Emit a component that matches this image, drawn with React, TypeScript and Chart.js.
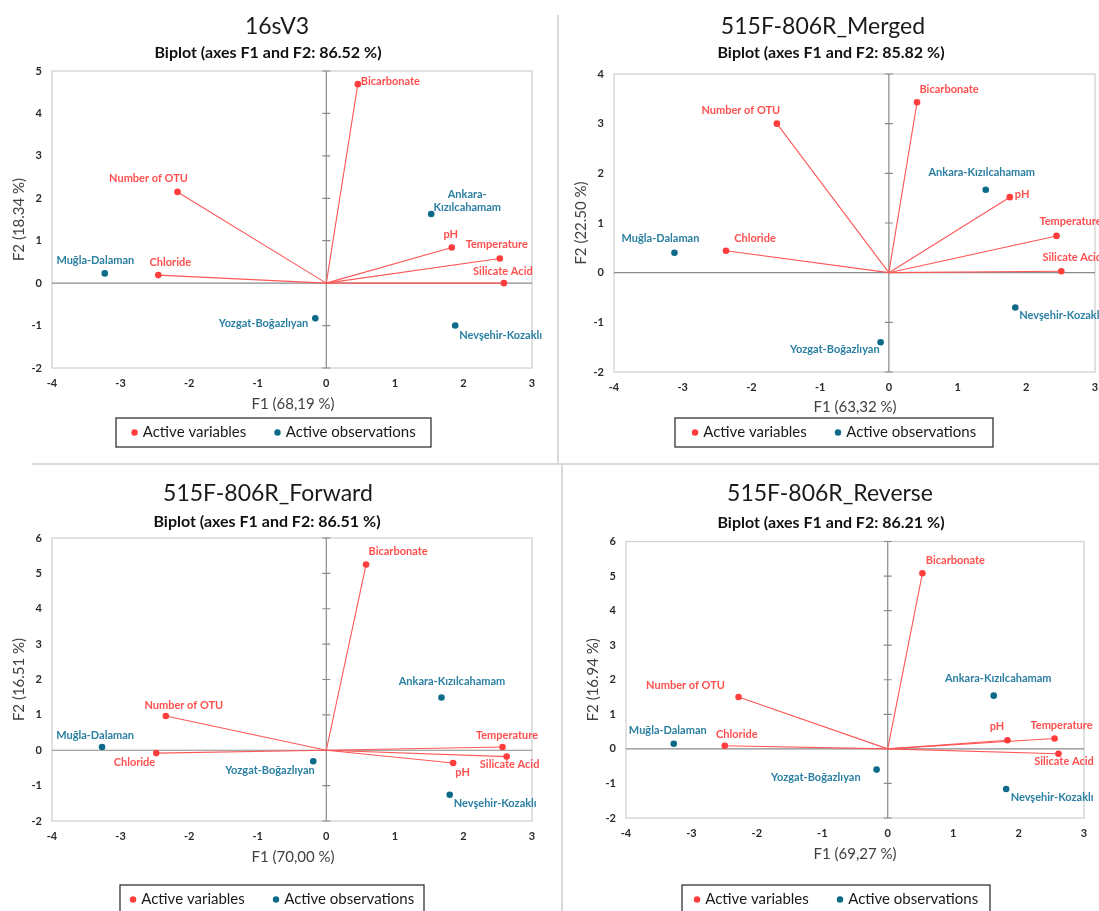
import React, { useEffect, useRef } from "react";
import { Chart, registerables } from "chart.js";

Chart.register(...registerables);

// ---------- data ----------
const variableNames = ["Bicarbonate", "Number of OTU", "Chloride", "pH", "Temperature", "Silicate Acid"];
const observationNames = ["Muğla-Dalaman", "Ankara-Kızılcahamam", "Yozgat-Boğazlıyan", "Nevşehir-Kozaklı"];
const xTicks = [-4, -3, -2, -1, 0, 1, 2, 3];

// 16sV3
const v3VarF1 = [0.46, -2.17, -2.45, 1.83, 2.53, 2.59];
const v3VarF2 = [4.69, 2.15, 0.19, 0.84, 0.58, 0.0];
const v3ObsF1 = [-3.23, 1.53, -0.16, 1.88];
const v3ObsF2 = [0.23, 1.63, -0.83, -1.0];
const v3YTicks = [-2, -1, 0, 1, 2, 3, 4, 5];

// 515F-806R_Merged
const mergedVarF1 = [0.41, -1.63, -2.37, 1.76, 2.44, 2.51];
const mergedVarF2 = [3.43, 3.0, 0.44, 1.52, 0.74, 0.03];
const mergedObsF1 = [-3.12, 1.41, -0.12, 1.84];
const mergedObsF2 = [0.4, 1.67, -1.4, -0.7];
const mergedYTicks = [-2, -1, 0, 1, 2, 3, 4];

// 515F-806R_Forward
const forwardVarF1 = [0.58, -2.34, -2.48, 1.85, 2.57, 2.63];
const forwardVarF2 = [5.25, 0.97, -0.08, -0.36, 0.09, -0.18];
const forwardObsF1 = [-3.27, 1.68, -0.19, 1.8];
const forwardObsF2 = [0.09, 1.49, -0.31, -1.26];
const forwardYTicks = [-2, -1, 0, 1, 2, 3, 4, 5, 6];

// 515F-806R_Reverse
const reverseVarF1 = [0.53, -2.28, -2.49, 1.83, 2.55, 2.61];
const reverseVarF2 = [5.08, 1.5, 0.09, 0.25, 0.3, -0.14];
const reverseObsF1 = [-3.27, 1.62, -0.17, 1.81];
const reverseObsF2 = [0.15, 1.54, -0.6, -1.16];
const reverseYTicks = [-2, -1, 0, 1, 2, 3, 4, 5, 6];

// ---------- styles ----------
const FONT = "Lato, 'Open Sans', sans-serif";
const RED = "#ff3d3d";
const RED_LINE = "#ff5757";
const RED_TEXT = "#ff5050";
const TEAL = "#0d6a89";
const TEAL_TEXT = "#2a7fa2";
const Y_W = 30;
const X_H = 24;

type LabelStyle = [number, number, CanvasTextAlign, boolean?];

type Panel = {
  key: string;
  title: string;
  subtitle: string;
  xTitle: string;
  yTitle: string;
  varF1: number[];
  varF2: number[];
  obsF1: number[];
  obsF2: number[];
  yTicks: number[];
  canvas: [number, number, number, number]; // left, top, width, height (page)
  plot: [number, number, number, number]; // left, top, right, bottom (page)
  titlePos: [number, number];
  subPos: [number, number];
  xTitlePos: [number, number];
  yTitleX: number;
  legend: [number, number, number, number];
  varLabels: LabelStyle[];
  obsLabels: LabelStyle[];
};

const PANELS: Panel[] = [
  {
    key: "v3",
    title: "16sV3",
    subtitle: "Biplot (axes F1 and F2: 86.52 %)",
    xTitle: "F1 (68,19 %)",
    yTitle: "F2 (18.34 %)",
    varF1: v3VarF1,
    varF2: v3VarF2,
    obsF1: v3ObsF1,
    obsF2: v3ObsF2,
    yTicks: v3YTicks,
    canvas: [0, 0, 559, 462],
    plot: [52, 71, 532, 368],
    titlePos: [277, 27],
    subPos: [268, 53],
    xTitlePos: [293, 404],
    yTitleX: 19,
    legend: [116, 418, 431, 447],
    varLabels: [
      [3, -3, "left"],
      [-29, -13, "center"],
      [12, -13, "center"],
      [-1, -13, "center"],
      [-3, -14, "center"],
      [-1, -12, "center"],
    ],
    obsLabels: [
      [-9.5, -13, "center"],
      [36, -7, "center", true],
      [-7, 5, "right"],
      [4, 9.5, "left"],
    ],
  },
  {
    key: "merged",
    title: "515F-806R_Merged",
    subtitle: "Biplot (axes F1 and F2: 85.82 %)",
    xTitle: "F1 (63,32 %)",
    yTitle: "F2 (22.50 %)",
    varF1: mergedVarF1,
    varF2: mergedVarF2,
    obsF1: mergedObsF1,
    obsF2: mergedObsF2,
    yTicks: mergedYTicks,
    canvas: [560, 0, 539, 462],
    plot: [614, 74, 1096, 372],
    titlePos: [823, 27],
    subPos: [831, 53],
    xTitlePos: [855, 407],
    yTitleX: 581.5,
    legend: [675, 418, 993, 447],
    varLabels: [
      [32, -13, "center"],
      [-36, -13, "center"],
      [29, -12, "center"],
      [5, -3, "left"],
      [14, -14, "center"],
      [11, -14, "center"],
    ],
    obsLabels: [
      [-14, -14, "center"],
      [-4, -17, "center"],
      [-1, 7, "right"],
      [4, 8, "left"],
    ],
  },
  {
    key: "forward",
    title: "515F-806R_Forward",
    subtitle: "Biplot (axes F1 and F2: 86.51 %)",
    xTitle: "F1 (70,00 %)",
    yTitle: "F2 (16.51 %)",
    varF1: forwardVarF1,
    varF2: forwardVarF2,
    obsF1: forwardObsF1,
    obsF2: forwardObsF2,
    yTicks: forwardYTicks,
    canvas: [0, 466, 560, 445],
    plot: [52, 538, 532, 821],
    titlePos: [268, 494],
    subPos: [267, 522],
    xTitlePos: [293, 857],
    yTitleX: 19,
    legend: [120, 885, 424, 916],
    varLabels: [
      [32, -13, "center"],
      [18, -10, "center"],
      [-1, 9, "right"],
      [9.5, 9, "center"],
      [4.5, -12, "center"],
      [3, 8, "center"],
    ],
    obsLabels: [
      [-7, -12, "center"],
      [10.5, -16, "center"],
      [1.5, 9, "right"],
      [4, 9, "left"],
    ],
  },
  {
    key: "reverse",
    title: "515F-806R_Reverse",
    subtitle: "Biplot (axes F1 and F2: 86.21 %)",
    xTitle: "F1 (69,27 %)",
    yTitle: "F2 (16.94 %)",
    varF1: reverseVarF1,
    varF2: reverseVarF2,
    obsF1: reverseObsF1,
    obsF2: reverseObsF2,
    yTicks: reverseYTicks,
    canvas: [563, 466, 536, 445],
    plot: [626, 541.5, 1084, 818],
    titlePos: [830, 494],
    subPos: [831, 523],
    xTitlePos: [855, 854],
    yTitleX: 593,
    legend: [682, 885, 990, 916],
    varLabels: [
      [33, -13, "center"],
      [-53, -12, "center"],
      [12, -11, "center"],
      [-10.5, -14, "center"],
      [7, -13, "center"],
      [5.5, 8, "center"],
    ],
    obsLabels: [
      [-6, -13, "center"],
      [4.5, -17, "center"],
      [-16, 8, "right"],
      [4.5, 8, "left"],
    ],
  },
];

function drawLabel(ctx: CanvasRenderingContext2D, text: string, px: number, py: number, st: LabelStyle) {
  const [dx, dy, align, wrap] = st;
  ctx.textAlign = align;
  ctx.textBaseline = "middle";
  if (wrap) {
    const i = text.indexOf("-");
    const a = text.slice(0, i + 1);
    const b = text.slice(i + 1);
    ctx.fillText(a, px + dx, py + dy - 13);
    ctx.fillText(b, px + dx, py + dy);
  } else {
    ctx.fillText(text, px + dx, py + dy);
  }
}

function makePlugin(p: Panel) {
  const cl = p.canvas[0];
  const ct = p.canvas[1];
  return {
    id: "biplot_" + p.key,
    beforeDatasetsDraw(chart: any) {
      const { ctx, chartArea: a, scales } = chart;
      const x = scales.x;
      const y = scales.y;
      ctx.save();
      ctx.strokeStyle = "#d2d2d2";
      ctx.lineWidth = 1.3;
      ctx.strokeRect(a.left, a.top, a.right - a.left, a.bottom - a.top);
      const x0 = x.getPixelForValue(0);
      const y0 = y.getPixelForValue(0);
      ctx.strokeStyle = "#8a8a8a";
      ctx.lineWidth = 1.2;
      ctx.beginPath();
      ctx.moveTo(x0, a.top);
      ctx.lineTo(x0, a.bottom);
      ctx.moveTo(a.left, y0);
      ctx.lineTo(a.right, y0);
      for (const t of p.yTicks) {
        const py = y.getPixelForValue(t);
        ctx.moveTo(x0 - 4, py);
        ctx.lineTo(x0 + 4, py);
      }
      ctx.stroke();
      ctx.restore();
    },
    afterDatasetsDraw(chart: any) {
      const { ctx, scales } = chart;
      const x = scales.x;
      const y = scales.y;
      ctx.save();
      ctx.font = `bold 11px ${FONT}`;
      ctx.fillStyle = RED_TEXT;
      variableNames.forEach((n, i) => {
        drawLabel(ctx, n, x.getPixelForValue(p.varF1[i]), y.getPixelForValue(p.varF2[i]), p.varLabels[i]);
      });
      ctx.fillStyle = TEAL_TEXT;
      observationNames.forEach((n, i) => {
        drawLabel(ctx, n, x.getPixelForValue(p.obsF1[i]), y.getPixelForValue(p.obsF2[i]), p.obsLabels[i]);
      });
      ctx.restore();
    },
    afterDraw(chart: any) {
      const { ctx, chartArea: a } = chart;
      ctx.save();
      ctx.textBaseline = "middle";
      ctx.textAlign = "center";
      // title
      ctx.fillStyle = "#1a1a1a";
      ctx.font = `23px ${FONT}`;
      ctx.fillText(p.title, p.titlePos[0] - cl, p.titlePos[1] - ct);
      ctx.font = `bold 16px ${FONT}`;
      ctx.fillStyle = "#111";
      ctx.fillText(p.subtitle, p.subPos[0] - cl, p.subPos[1] - ct);
      // axis titles
      ctx.fillStyle = "#404040";
      ctx.font = `15px ${FONT}`;
      ctx.fillText(p.xTitle, p.xTitlePos[0] - cl, p.xTitlePos[1] - ct);
      ctx.save();
      ctx.translate(p.yTitleX - cl, (a.top + a.bottom) / 2);
      ctx.rotate(-Math.PI / 2);
      ctx.fillText(p.yTitle, 0, 0);
      ctx.restore();
      // legend
      const [l, t, r, b] = p.legend;
      const lx = l - cl;
      const ly = t - ct;
      const lw = r - l;
      const lh = b - t;
      ctx.strokeStyle = "#333";
      ctx.lineWidth = 1.3;
      ctx.strokeRect(lx, ly, lw, lh);
      ctx.font = `15px ${FONT}`;
      const t1 = "Active variables";
      const t2 = "Active observations";
      const w1 = ctx.measureText(t1).width;
      const w2 = ctx.measureText(t2).width;
      const dotR = 3.2;
      const gapDot = 5;
      const gapItem = 28;
      const total = dotR * 2 + gapDot + w1 + gapItem + dotR * 2 + gapDot + w2;
      let cx = lx + (lw - total) / 2;
      const cy = ly + 14.5;
      ctx.textAlign = "left";
      ctx.fillStyle = RED;
      ctx.beginPath();
      ctx.arc(cx + dotR, cy, dotR, 0, Math.PI * 2);
      ctx.fill();
      cx += dotR * 2 + gapDot;
      ctx.fillStyle = "#1a1a1a";
      ctx.fillText(t1, cx, cy);
      cx += w1 + gapItem;
      ctx.fillStyle = TEAL;
      ctx.beginPath();
      ctx.arc(cx + dotR, cy, dotR, 0, Math.PI * 2);
      ctx.fill();
      cx += dotR * 2 + gapDot;
      ctx.fillStyle = "#1a1a1a";
      ctx.fillText(t2, cx, cy);
      ctx.restore();
    },
  };
}

function buildConfig(p: Panel): any {
  const [cl, ct, cw, ch] = p.canvas;
  const [pl, pt, pr, pb] = p.plot;
  const datasets: any[] = variableNames.map((n, i) => ({
    label: n,
    data: [
      { x: 0, y: 0 },
      { x: p.varF1[i], y: p.varF2[i] },
    ],
    showLine: true,
    borderColor: RED_LINE,
    borderWidth: 1.1,
    pointRadius: [0, 3.3],
    pointHoverRadius: [0, 3.3],
    pointBackgroundColor: RED,
    pointBorderWidth: 0,
    clip: false,
  }));
  datasets.push({
    label: "Active observations",
    data: observationNames.map((n, i) => ({ x: p.obsF1[i], y: p.obsF2[i] })),
    showLine: false,
    pointRadius: 3.3,
    pointBackgroundColor: TEAL,
    pointBorderWidth: 0,
    clip: false,
  });
  const tickFont = { family: FONT, size: 11, weight: "bold" as const };
  return {
    type: "scatter",
    data: { datasets },
    options: {
      responsive: false,
      animation: false,
      events: [],
      layout: {
        padding: {
          left: pl - cl - Y_W,
          top: pt - ct,
          right: cl + cw - pr,
          bottom: ct + ch - pb - X_H,
        },
      },
      plugins: {
        legend: { display: false },
        title: { display: false },
        tooltip: { enabled: false },
      },
      scales: {
        x: {
          type: "linear",
          min: xTicks[0],
          max: xTicks[xTicks.length - 1],
          grid: { display: false, drawTicks: false },
          border: { display: false },
          ticks: { stepSize: 1, autoSkip: false, padding: 9, color: "#2a2a2a", font: tickFont, maxRotation: 0 },
          afterFit(s: any) {
            s.height = X_H;
            s.paddingLeft = 0;
            s.paddingRight = 0;
          },
        },
        y: {
          type: "linear",
          min: p.yTicks[0],
          max: p.yTicks[p.yTicks.length - 1],
          grid: { display: false, drawTicks: false },
          border: { display: false },
          ticks: { stepSize: 1, autoSkip: false, padding: 10, color: "#2a2a2a", font: tickFont },
          afterFit(s: any) {
            s.width = Y_W;
            s.paddingTop = 0;
            s.paddingBottom = 0;
          },
        },
      },
    },
    plugins: [makePlugin(p)],
  };
}

function BiplotPanel({ p }: { p: Panel }) {
  const ref = useRef<HTMLCanvasElement>(null);
  useEffect(() => {
    if (!ref.current) return;
    const chart = new Chart(ref.current, buildConfig(p));
    return () => chart.destroy();
  }, [p]);
  const [l, t, w, h] = p.canvas;
  return (
    <canvas
      ref={ref}
      width={w}
      height={h}
      style={{ position: "absolute", left: l, top: t, width: w, height: h }}
    />
  );
}

export default function App() {
  return (
    <div
      style={{
        position: "absolute",
        left: 0,
        top: 0,
        width: 1099,
        height: 911,
        overflow: "hidden",
        background: "#fff",
      }}
    >
      {PANELS.map((p) => (
        <BiplotPanel key={p.key} p={p} />
      ))}
      <div style={{ position: "absolute", left: 557, top: 15, width: 2, height: 450, background: "#d9d9d9" }} />
      <div style={{ position: "absolute", left: 561, top: 463, width: 2, height: 448, background: "#d9d9d9" }} />
      <div style={{ position: "absolute", left: 32, top: 463, width: 1067, height: 2, background: "#d9d9d9" }} />
    </div>
  );
}
